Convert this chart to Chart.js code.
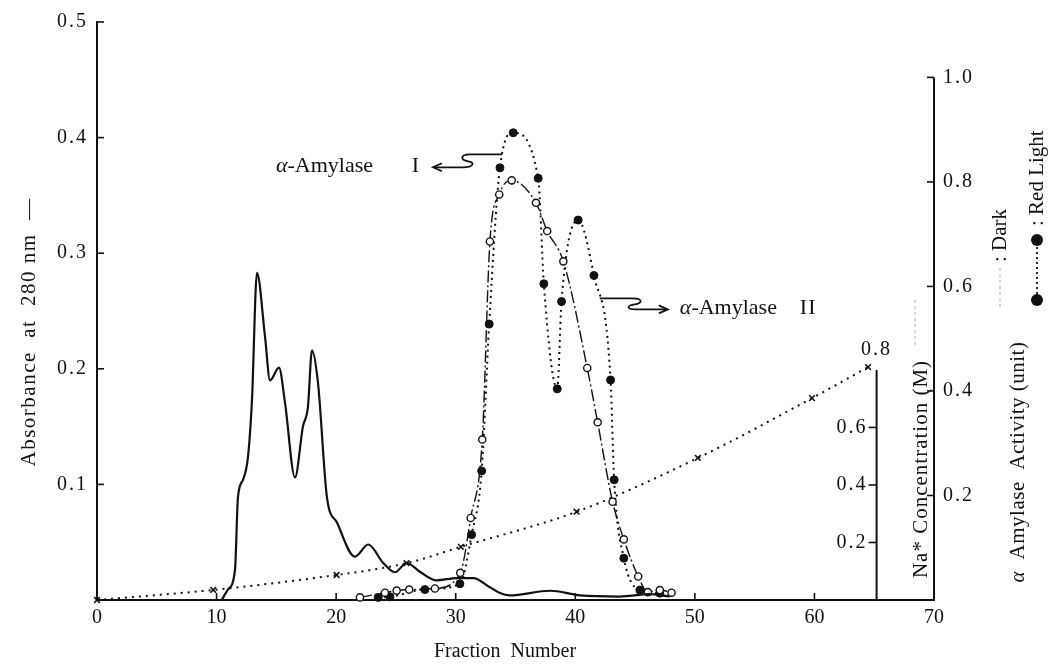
<!DOCTYPE html>
<html><head><meta charset="utf-8">
<script src="https://cdn.jsdelivr.net/npm/chart.js@4.4.1/dist/chart.umd.min.js"></script>
<style>html,body{margin:0;padding:0;background:#fff}</style>
</head><body>
<canvas id="c" width="1052" height="672" style="display:block"></canvas>
<script>
// ---------- data ----------
const X_TICKS = [0, 10, 20, 30, 40, 50, 60, 70];
const ABS_TICKS = [0.1, 0.2, 0.3, 0.4, 0.5];
const ACT_TICKS = [0.2, 0.4, 0.6, 0.8, 1.0];
const NA_TICKS = [0.2, 0.4, 0.6];
const NA_TOP = 0.8;
const NA_AXIS_FRACTION = 65.2;

// Absorbance at 280 nm (left axis)
const ABS_X = [10.43, 10.95, 11.54, 11.79, 12.21, 12.63, 12.96, 13.38, 14.05, 14.47, 15.22, 15.72, 16.56, 17.22, 17.64, 17.98, 18.48, 19.23, 20.07, 21.57, 22.68, 23.94, 24.92, 25.89, 27.0, 28.4, 30.08, 31.47, 32.86, 33.7, 34.5, 37.9, 40.4, 43.7, 46.2, 47.9];
const ABS_Y = [0, 0.009, 0.026, 0.089, 0.104, 0.124, 0.173, 0.283, 0.228, 0.19, 0.201, 0.171, 0.106, 0.150, 0.167, 0.216, 0.188, 0.089, 0.067, 0.0375, 0.048, 0.032, 0.024, 0.032, 0.0245, 0.017, 0.019, 0.019, 0.011, 0.006, 0.004, 0.008, 0.004, 0.003, 0.005, 0.003];

// alpha-amylase activity, Dark (open circles, right axis)
const DARK_X = [21.99, 24.08, 25.06, 26.11, 28.26, 30.38, 31.25, 32.22, 32.86, 33.64, 34.68, 36.71, 37.65, 39.0, 41.0, 41.87, 43.12, 44.06, 45.26, 46.07, 47.07, 48.05];
const DARK_Y = [0.005, 0.014, 0.018, 0.020, 0.022, 0.052, 0.157, 0.307, 0.686, 0.776, 0.803, 0.760, 0.706, 0.648, 0.444, 0.340, 0.188, 0.116, 0.045, 0.015, 0.019, 0.014];

// alpha-amylase activity, Red Light (filled circles, right axis)
const RED_X = [23.52, 24.5, 27.42, 30.35, 31.33, 32.17, 32.80, 33.70, 34.81, 36.90, 37.37, 38.49, 38.85, 40.24, 41.56, 42.95, 43.25, 44.06, 45.40, 47.07];
const RED_Y = [0.005, 0.006, 0.020, 0.031, 0.125, 0.247, 0.528, 0.827, 0.894, 0.807, 0.605, 0.404, 0.571, 0.727, 0.621, 0.421, 0.230, 0.080, 0.019, 0.013];

// Na+ concentration gradient (inner axis)
const NA_X = [0, 9.72, 20.04, 25.89, 30.43, 40.11, 50.25, 59.8, 64.49];
const NA_Y = [0, 0.035, 0.087, 0.128, 0.185, 0.307, 0.494, 0.702, 0.81];

// annotation arrow tips (fraction, activity)
const ANN1_TIP = [28.1, 0.828];
const ANN2_TIP = [47.74, 0.556];

// ---------- helpers ----------
const INK = '#111';
const FAM = '"Liberation Serif", "Times New Roman", serif';
const F = (sz, it) => (it ? 'italic ' : '') + sz + 'px ' + FAM;
const pts = (xs, ys) => xs.map((x, i) => ({ x, y: ys[i] }));

function drawRuns(ctx, runs, cx, cy, rot, align, spacing) {
  ctx.save();
  ctx.letterSpacing = (spacing || 0) + 'px';
  ctx.translate(cx, cy);
  if (rot) ctx.rotate(rot);
  let total = 0;
  runs.forEach(r => { ctx.font = r.font; r.w = ctx.measureText(r.t).width; total += r.w; });
  let x = align === 'right' ? -total : (align === 'left' ? 0 : -total / 2);
  ctx.textBaseline = 'middle'; ctx.textAlign = 'left'; ctx.fillStyle = INK;
  runs.forEach(r => { ctx.font = r.font; ctx.fillText(r.t, x, 0); x += r.w; });
  ctx.restore();
}

const overlay = {
  id: 'overlay',
  beforeDraw(chart) { chart.ctx.letterSpacing = '2px'; },
  beforeDatasetsDraw(chart) {
    const ctx = chart.ctx;
    ctx.letterSpacing = '0px';
    const xs = chart.scales.x, ys = chart.scales.y, act = chart.scales.act, na = chart.scales.na;
    const ca = chart.chartArea;
    ctx.save();
    ctx.strokeStyle = INK; ctx.lineWidth = 1.6; ctx.lineCap = 'butt';
    // x tick labels and inward ticks
    ctx.fillStyle = INK; ctx.font = F(20); ctx.textAlign = 'center'; ctx.textBaseline = 'middle';
    X_TICKS.forEach(v => {
      const px = xs.getPixelForValue(v);
      ctx.fillText(String(v), px, ca.bottom + 18);
      if (v === 0 || v === 70) return;
      ctx.beginPath(); ctx.moveTo(px, ca.bottom); ctx.lineTo(px, ca.bottom - 7); ctx.stroke();
    });
    // inward ticks on left axis
    ABS_TICKS.forEach(v => {
      const py = ys.getPixelForValue(v);
      ctx.beginPath(); ctx.moveTo(ca.left, py); ctx.lineTo(ca.left + 7, py); ctx.stroke();
    });
    // right activity axis line + inward ticks
    ctx.lineWidth = 2;
    ctx.beginPath(); ctx.moveTo(ca.right, act.getPixelForValue(0)); ctx.lineTo(ca.right, act.getPixelForValue(1.0)); ctx.stroke();
    ctx.lineWidth = 1.6;
    ACT_TICKS.forEach(v => {
      const py = act.getPixelForValue(v);
      ctx.beginPath(); ctx.moveTo(ca.right, py); ctx.lineTo(ca.right - 7, py); ctx.stroke();
    });
    // Na+ axis
    const ax = xs.getPixelForValue(NA_AXIS_FRACTION);
    ctx.lineWidth = 2;
    ctx.beginPath(); ctx.moveTo(ax, na.getPixelForValue(0)); ctx.lineTo(ax, na.getPixelForValue(NA_TOP)); ctx.stroke();
    ctx.lineWidth = 1.6;
    ctx.font = F(20);
    ctx.letterSpacing = '2px';
    NA_TICKS.forEach(v => {
      const py = na.getPixelForValue(v);
      ctx.beginPath(); ctx.moveTo(ax, py); ctx.lineTo(ax - 8, py); ctx.stroke();
      ctx.textAlign = 'right'; ctx.fillText(v.toFixed(1), ax - 9, py);
    });
    ctx.textAlign = 'center';
    ctx.fillText(NA_TOP.toFixed(1), ax, na.getPixelForValue(NA_TOP) - 20);
    ctx.letterSpacing = '0px';
    ctx.restore();
  },
  afterDraw(chart) {
    const ctx = chart.ctx;
    const xs = chart.scales.x, act = chart.scales.act;
    ctx.letterSpacing = '0px';
    const R = -Math.PI / 2;
    // axis titles
    drawRuns(ctx, [{ t: 'Absorbance  at  280 nm  —', font: F(21) }], 29, 332, R, 'center', 1.5);
    drawRuns(ctx, [{ t: 'Fraction  Number', font: F(20) }], 505, 652, 0);
    drawRuns(ctx, [{ t: 'Na* Concentration (M)', font: F(21) }], 921, 469, R, 'center', 1);
    drawRuns(ctx, [{ t: 'α', font: F(21, true) }, { t: '  Amylase  Activity (unit)', font: F(21) }], 1018, 462, R, 'center', 0.5);
    // faint legend marks
    ctx.save();
    ctx.strokeStyle = '#c8c8c8'; ctx.lineWidth = 1.5; ctx.setLineDash([3, 3]);
    ctx.beginPath(); ctx.moveTo(915, 345); ctx.lineTo(915, 300); ctx.stroke();
    ctx.beginPath(); ctx.moveTo(1000, 307); ctx.lineTo(1000, 268); ctx.stroke();
    ctx.restore();
    drawRuns(ctx, [{ t: ': Dark', font: F(21) }], 1000, 262, R, 'left');
    // Red Light legend sample
    ctx.save();
    ctx.fillStyle = INK; ctx.strokeStyle = INK;
    ctx.beginPath(); ctx.arc(1037, 300, 6, 0, Math.PI * 2); ctx.fill();
    ctx.beginPath(); ctx.arc(1037, 240, 6, 0, Math.PI * 2); ctx.fill();
    ctx.setLineDash([2, 3]); ctx.lineWidth = 1.8;
    ctx.beginPath(); ctx.moveTo(1037, 294); ctx.lineTo(1037, 246); ctx.stroke();
    ctx.restore();
    drawRuns(ctx, [{ t: ': Red Light', font: F(21) }], 1037, 226, R, 'left');

    // annotations
    ctx.save();
    ctx.strokeStyle = INK; ctx.lineWidth = 1.8; ctx.setLineDash([]);
    let t = { x: xs.getPixelForValue(ANN1_TIP[0]), y: act.getPixelForValue(ANN1_TIP[1]) };
    ctx.beginPath();
    ctx.moveTo(t.x + 69, t.y - 13);
    ctx.lineTo(t.x + 37, t.y - 13);
    ctx.bezierCurveTo(t.x + 27, t.y - 13, t.x + 27, t.y - 7, t.x + 35, t.y - 6);
    ctx.bezierCurveTo(t.x + 43, t.y - 5, t.x + 40, t.y, t.x + 30, t.y);
    ctx.lineTo(t.x + 1, t.y);
    ctx.stroke();
    ctx.beginPath(); ctx.moveTo(t.x + 9, t.y - 4); ctx.lineTo(t.x, t.y); ctx.lineTo(t.x + 9, t.y + 4); ctx.stroke();
    drawRuns(ctx, [{ t: 'I', font: F(22) }], t.x - 14, t.y - 1, 0, 'right');
    drawRuns(ctx, [{ t: 'α', font: F(22, true) }, { t: '-Amylase', font: F(22) }], t.x - 60, t.y - 1, 0, 'right');

    t = { x: xs.getPixelForValue(ANN2_TIP[0]), y: act.getPixelForValue(ANN2_TIP[1]) };
    ctx.beginPath();
    ctx.moveTo(t.x - 68, t.y - 11);
    ctx.lineTo(t.x - 35, t.y - 11);
    ctx.bezierCurveTo(t.x - 25, t.y - 11, t.x - 25, t.y - 6, t.x - 33, t.y - 5);
    ctx.bezierCurveTo(t.x - 41, t.y - 4, t.x - 42, t.y, t.x - 32, t.y);
    ctx.lineTo(t.x - 1, t.y);
    ctx.stroke();
    ctx.beginPath(); ctx.moveTo(t.x - 9, t.y - 4); ctx.lineTo(t.x, t.y); ctx.lineTo(t.x - 9, t.y + 4); ctx.stroke();
    ctx.restore();
    drawRuns(ctx, [{ t: 'α', font: F(22, true) }, { t: '-Amylase', font: F(22) }], t.x + 12, t.y - 1, 0, 'left');
    drawRuns(ctx, [{ t: 'II', font: F(22) }], t.x + 132, t.y - 1, 0, 'left', 1);
  }
};

const tickFont = { family: FAM, size: 20 };

new Chart(document.getElementById('c'), {
  type: 'line',
  data: {
    datasets: [
      { label: 'Na+', data: pts(NA_X, NA_Y), yAxisID: 'na', borderColor: INK, borderWidth: 2, borderDash: [2, 5],
        pointStyle: 'crossRot', pointRadius: 4, pointBorderWidth: 1.6, pointBorderColor: INK, pointBackgroundColor: INK,
        cubicInterpolationMode: 'monotone', clip: false },
      { label: 'Absorbance', data: pts(ABS_X, ABS_Y), yAxisID: 'y', borderColor: INK, borderWidth: 2.2,
        pointRadius: 0, cubicInterpolationMode: 'monotone', clip: false },
      { label: 'Dark', data: pts(DARK_X, DARK_Y), yAxisID: 'act', borderColor: INK, borderWidth: 1.4, borderDash: [12, 3, 2, 3],
        pointRadius: 3.6, pointBackgroundColor: '#fff', pointBorderColor: INK, pointBorderWidth: 1.4,
        cubicInterpolationMode: 'monotone', clip: false },
      { label: 'Red Light', data: pts(RED_X, RED_Y), yAxisID: 'act', borderColor: INK, borderWidth: 2, borderDash: [2, 4],
        pointRadius: 4, pointBackgroundColor: INK, pointBorderColor: INK, pointBorderWidth: 1,
        cubicInterpolationMode: 'monotone', clip: false }
    ]
  },
  options: {
    responsive: false, animation: false, devicePixelRatio: 1,
    layout: { padding: { top: 22, left: 0, right: 0, bottom: 0 } },
    plugins: { legend: { display: false }, tooltip: { enabled: false } },
    scales: {
      x: { type: 'linear', min: 0, max: 70, position: 'bottom',
        afterFit(s) { s.height = 72; },
        afterBuildTicks(s) { s.ticks = X_TICKS.map(v => ({ value: v })); },
        grid: { display: false }, border: { display: true, color: INK, width: 2 },
        ticks: { display: false } },
      y: { type: 'linear', min: 0, max: 0.5, position: 'left',
        afterFit(s) { s.width = 97; },
        afterBuildTicks(s) { s.ticks = ABS_TICKS.map(v => ({ value: v })); },
        grid: { display: false }, border: { display: true, color: INK, width: 2 },
        ticks: { font: tickFont, color: INK, padding: 1, callback: v => v.toFixed(1) } },
      act: { type: 'linear', min: 0, max: 1.106, position: 'right',
        afterFit(s) { s.width = 118; },
        afterBuildTicks(s) { s.ticks = ACT_TICKS.map(v => ({ value: v })); },
        grid: { display: false }, border: { display: false },
        ticks: { font: tickFont, color: INK, padding: 1, callback: v => v.toFixed(1) } },
      na: { type: 'linear', min: 0, max: 2.01, position: 'right', display: false }
    }
  },
  plugins: [overlay]
});
</script>
</body></html>
